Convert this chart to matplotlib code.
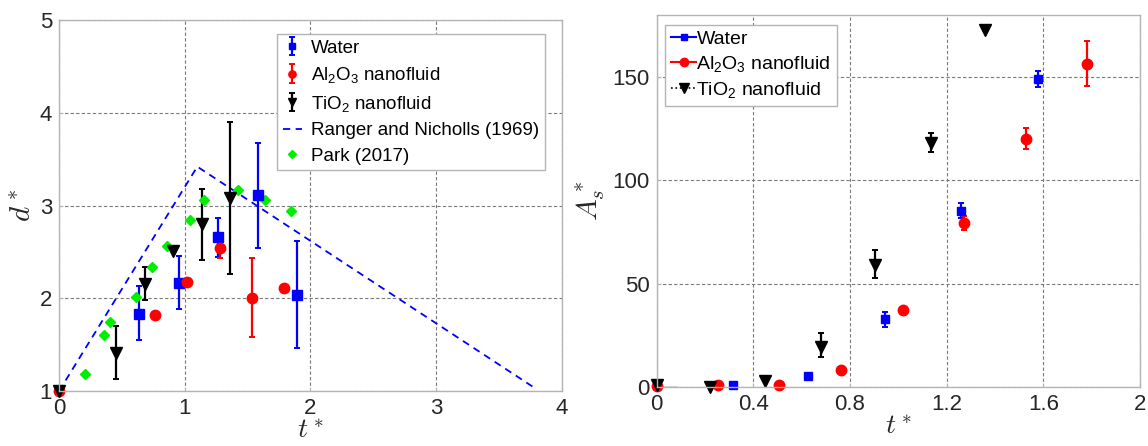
import matplotlib
matplotlib.use("Agg")
import matplotlib.pyplot as plt
from matplotlib.lines import Line2D
from matplotlib.ticker import FormatStrFormatter
import numpy as np

plt.rcParams["font.family"] = ["Liberation Sans", "DejaVu Sans"]
plt.rcParams["mathtext.fontset"] = "custom"
plt.rcParams["mathtext.rm"] = "Liberation Sans"
plt.rcParams["mathtext.it"] = "Liberation Sans:italic"

# ---- left panel: d* vs t* ----
water_t = [0.633, 0.951, 1.267, 1.585, 1.897]
water_d = [1.83, 2.17, 2.66, 3.11, 2.04]
water_d_lo = [1.55, 1.89, 2.45, 2.54, 1.47]
water_d_hi = [2.13, 2.46, 2.87, 3.68, 2.62]

al_t = [0.0, 0.766, 1.019, 1.278, 1.532, 1.788]
al_d = [1.0, 1.82, 2.18, 2.545, 2.0, 2.11]
al_d_lo = [1.0, 1.82, 2.18, 2.44, 1.58, 2.11]
al_d_hi = [1.0, 1.82, 2.18, 2.65, 2.44, 2.11]

ti_t = [0.0, 0.457, 0.686, 0.907, 1.137, 1.364]
ti_d = [1.0, 1.41, 2.15, 2.51, 2.80, 3.08]
ti_d_lo = [1.0, 1.13, 1.98, 2.51, 2.41, 2.26]
ti_d_hi = [1.0, 1.70, 2.34, 2.51, 3.18, 3.90]

park_t = [0.206, 0.356, 0.404, 0.613, 0.736, 0.857, 1.04, 1.152, 1.42, 1.638, 1.847]
park_d = [1.18, 1.61, 1.75, 2.01, 2.34, 2.56, 2.85, 3.06, 3.17, 3.06, 2.94]

ranger_t = [0.0, 1.1, 3.8]
ranger_d = [1.0, 3.42, 1.02]

# ---- right panel: A_s* vs t* ----
water_A_t = [0.315, 0.628, 0.946, 1.261, 1.577]
water_A = [1.1, 5.4, 33.0, 85.4, 149.0]
water_A_lo = [1.1, 5.4, 29.2, 81.8, 145.3]
water_A_hi = [1.1, 5.4, 36.5, 89.0, 152.8]

al_A_t = [0.0, 0.252, 0.506, 0.761, 1.018, 1.273, 1.529, 1.782]
al_A = [0.5, 0.8, 1.1, 8.1, 37.3, 79.5, 120.3, 156.5]
al_A_lo = [0.5, 0.8, 1.1, 8.1, 37.3, 76.0, 115.3, 145.5]
al_A_hi = [0.5, 0.8, 1.1, 8.1, 37.3, 82.8, 125.3, 167.7]

ti_A_t = [0.0, 0.222, 0.45, 0.679, 0.905, 1.134, 1.359]
ti_A = [0.8, 0.0, 2.8, 19.5, 59.3, 118.2, 172.6]
ti_A_lo = [0.8, 0.0, 2.8, 14.6, 52.8, 114.0, 172.6]
ti_A_hi = [0.8, 0.0, 2.8, 26.0, 66.2, 123.0, 172.6]

base_t = [0.0, 0.085]
base_A = [0.0, 0.0]

BLUE, RED, GREEN = "#0000ff", "#ff0000", "#00ee00"
GRID = "#7a7a7a"
SPINE = "#b4b4b4"
TXT = "#262626"


def yerr(y, lo, hi):
    y = np.asarray(y)
    return [y - np.asarray(lo), np.asarray(hi) - y]


def style_axes(ax):
    ax.grid(True, linestyle=(0, (3, 2)), color=GRID, linewidth=0.8)
    ax.set_axisbelow(True)
    for s in ax.spines.values():
        s.set_color(SPINE)
        s.set_linewidth(1.0)
    ax.tick_params(direction="in", length=3, color=SPINE, labelsize=16,
                   labelcolor=TXT, pad=5)


fig = plt.figure(figsize=(11.48, 4.46), dpi=100)

# left
ax1 = fig.add_axes([0.0514, 0.123, 0.438, 0.832])
style_axes(ax1)
rn, = ax1.plot(ranger_t, ranger_d, "--", color=BLUE, lw=1.3, dashes=(4, 3))
eb_w = ax1.errorbar(water_t, water_d, yerr=yerr(water_d, water_d_lo, water_d_hi),
                    fmt="s", color=BLUE, ms=6.5, elinewidth=1.6, capsize=2.5,
                    capthick=1.4)
eb_a = ax1.errorbar(al_t, al_d, yerr=yerr(al_d, al_d_lo, al_d_hi),
                    fmt="o", color=RED, ms=7.5, elinewidth=1.6, capsize=2.5,
                    capthick=1.4, clip_on=False)
eb_t = ax1.errorbar(ti_t, ti_d, yerr=yerr(ti_d, ti_d_lo, ti_d_hi),
                    fmt="v", color="black", ms=8, elinewidth=1.6, capsize=2.5,
                    capthick=1.4, clip_on=False)
pk, = ax1.plot(park_t, park_d, "D", color=GREEN, ms=5.5)
ax1.set_xlim(0, 4)
ax1.set_ylim(1, 5)
ax1.set_xticks([0, 1, 2, 3, 4])
ax1.set_yticks([1, 2, 3, 4, 5])
ax1.set_xlabel("$t^*$", fontsize=20, color=TXT, math_fontfamily="cm", labelpad=-1)
ax1.set_ylabel("$d^*$", fontsize=21, color=TXT, math_fontfamily="cm", labelpad=2)
leg1 = ax1.legend([eb_w, eb_a, eb_t, rn, pk],
                  ["Water", "Al$_2$O$_3$ nanofluid", "TiO$_2$ nanofluid",
                   "Ranger and Nicholls (1969)", "Park (2017)"],
                  loc="upper right", bbox_to_anchor=(0.985, 0.988),
                  fontsize=13.5, fancybox=False, framealpha=1, edgecolor=SPINE,
                  handlelength=1.0, handletextpad=0.5, borderpad=0.3,
                  labelspacing=0.45, markerscale=0.7)
leg1.get_frame().set_linewidth(1.0)

# right
ax2 = fig.add_axes([0.572, 0.132, 0.421, 0.834])
style_axes(ax2)
ax2.plot(base_t, base_A, "-", color="#555555", lw=1.0)
ax2.errorbar(water_A_t, water_A, yerr=yerr(water_A, water_A_lo, water_A_hi),
             fmt="s", color=BLUE, ms=6, elinewidth=1.6, capsize=2.5,
             capthick=1.4, clip_on=False)
ax2.errorbar(al_A_t, al_A, yerr=yerr(al_A, al_A_lo, al_A_hi),
             fmt="o", color=RED, ms=7.5, elinewidth=1.6, capsize=2.5,
             capthick=1.4, clip_on=False)
ax2.errorbar(ti_A_t, ti_A, yerr=yerr(ti_A, ti_A_lo, ti_A_hi),
             fmt="v", color="black", ms=8, elinewidth=1.6, capsize=2.5,
             capthick=1.4, clip_on=False)
ax2.set_xlim(0, 2)
ax2.set_ylim(0, 180)
ax2.set_xticks([0, 0.4, 0.8, 1.2, 1.6, 2])
ax2.set_yticks([0, 50, 100, 150])
ax2.xaxis.set_major_formatter(FormatStrFormatter("%g"))
ax2.set_xlabel("$t^*$", fontsize=20, color=TXT, math_fontfamily="cm", labelpad=-1)
ax2.set_ylabel("$A_s^*$", fontsize=21, color=TXT, math_fontfamily="cm", labelpad=4)
handles2 = [
    Line2D([], [], color=BLUE, marker="s", ms=5, lw=1.5, ls="-"),
    Line2D([], [], color=RED, marker="o", ms=6, lw=1.5, ls="-"),
    Line2D([], [], color="black", marker="v", ms=7, lw=1.2, ls=":"),
]
leg2 = ax2.legend(handles2, ["Water", "Al$_2$O$_3$ nanofluid", "TiO$_2$ nanofluid"],
                  loc="upper left", bbox_to_anchor=(0.01, 0.985),
                  fontsize=14, fancybox=False, framealpha=1, edgecolor=SPINE,
                  handlelength=1.3, handletextpad=0.0, borderpad=0.3,
                  labelspacing=0.3, borderaxespad=0.2)
leg2.get_frame().set_linewidth(1.0)

fig.savefig("out.png", dpi=100)
